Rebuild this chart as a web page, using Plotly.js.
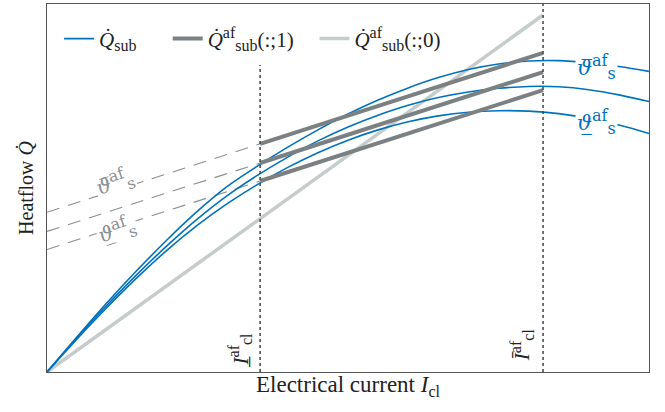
<!DOCTYPE html>
<html>
<head>
<meta charset="utf-8">
<script src="https://cdn.plot.ly/plotly-3.0.1.min.js"></script>
<style>html,body{margin:0;padding:0;background:#fff;}#chart{width:665px;height:412px;}</style>
</head>
<body>
<div id="chart"></div>
<script>
// Electrical current grid (normalized, arbitrary units)
const current = [0, 0.05, 0.10, 0.15, 0.20, 0.25, 0.30, 0.35, 0.40, 0.45, 0.50,
                 0.55, 0.60, 0.65, 0.70, 0.75, 0.80, 0.85, 0.90, 0.95, 1.00];
// Heatflow Q_sub for upper / middle / lower theta_s^af
const qsubHigh = [0, 0.096, 0.189, 0.277, 0.360, 0.437, 0.505, 0.560, 0.611, 0.658, 0.701,
                  0.739, 0.772, 0.800, 0.822, 0.837, 0.845, 0.846, 0.840, 0.830, 0.817];
const qsubMid  = [0, 0.093, 0.182, 0.266, 0.344, 0.416, 0.480, 0.535, 0.584, 0.628, 0.666,
                  0.698, 0.725, 0.746, 0.761, 0.771, 0.776, 0.775, 0.767, 0.753, 0.735];
const qsubLow  = [0, 0.090, 0.176, 0.257, 0.332, 0.399, 0.458, 0.510, 0.556, 0.596, 0.630,
                  0.658, 0.680, 0.696, 0.706, 0.710, 0.709, 0.702, 0.689, 0.671, 0.648];
// Current limits
const IclLow = 0.354;
const IclHigh = 0.824;
// Q_sub^af(:;1) linearizations: values at [0, IclLow, IclHigh]
const qaf1High = [0.434, 0.620, 0.867];
const qaf1Mid  = [0.382, 0.568, 0.815];
const qaf1Low  = [0.333, 0.519, 0.766];
// Q_sub^af(:;0): values at [0, IclHigh]
const qaf0 = [0, 0.970];

const blue = '#0072BD', dark = '#7b8182', light = '#c5cccc', dash = '#8a8f90';
const F = '"Liberation Serif", "DejaVu Serif", serif';
const TF = '"DejaVu Serif", "Liberation Serif", serif';
const NB = '\u00a0';
const sub = t => '<sub><span style="font-size:16px">' + t + '</span></sub>';
const sup = t => '<sup><span style="font-size:16px">' + t + '</span></sup>';

const traces = [];
// dashed extensions
[qaf1High, qaf1Mid, qaf1Low].forEach(v => traces.push({
  x: [0, IclLow], y: [v[0], v[1]], mode: 'lines', showlegend: false, hoverinfo: 'skip',
  line: {color: dash, width: 1.1, dash: '13px,9px'}
}));
// light gray
traces.push({x: [0, IclHigh], y: qaf0, mode: 'lines', name: '<i>Q̇</i>' + sup('af') + sub('sub') + '(:;0)',
  legendrank: 3, line: {color: light, width: 3.5}});
// blue curves
[qsubHigh, qsubMid, qsubLow].forEach((v, i) => traces.push({
  x: current, y: v, mode: 'lines', name: '<i>Q̇</i>' + sub('sub') + NB.repeat(5), legendgroup: 'b',
  showlegend: i === 0, legendrank: 1, line: {color: blue, width: 1.6, shape: 'spline'}
}));
// dark gray
[qaf1High, qaf1Mid, qaf1Low].forEach((v, i) => traces.push({
  x: [IclLow, IclHigh], y: [v[1], v[2]], mode: 'lines', name: '<i>Q̇</i>' + sup('af') + sub('sub') + '(:;1)' + NB.repeat(3),
  legendgroup: 'd', showlegend: i === 0, legendrank: 2, line: {color: dark, width: 4}
}));

const ann = (x, y, text, opts) => Object.assign({x, y, xref: 'x', yref: 'y', text, showarrow: false,
  font: {family: F, size: 21, color: '#222'}}, opts || {});
const theta = (bar) => '<i>' + (bar ? 'ϑ\u0305' : 'ϑ\u0332') + '</i>' + sup('af') + sub('s');

const layout = {
  width: 665, height: 412,
  margin: {l: 47, r: 16, t: 4, b: 40},
  paper_bgcolor: '#fff', plot_bgcolor: '#fff',
  font: {family: F, color: '#222'},
  xaxis: {range: [0, 1], showticklabels: false, ticks: '', showgrid: false, zeroline: false,
    showline: true, mirror: true, linecolor: '#555', linewidth: 1.2,
    title: {text: 'Electrical current <i>I</i>' + sub('cl'), font: {family: F, size: 23, color: '#222'}, standoff: 3}},
  yaxis: {range: [0, 1], showticklabels: false, ticks: '', showgrid: false, zeroline: false,
    showline: true, mirror: true, linecolor: '#555', linewidth: 1.2,
    title: {text: 'Heatflow <i>Q̇</i>', font: {family: F, size: 20, color: '#222'}, standoff: 6}},
  showlegend: true,
  legend: {orientation: 'h', x: 0.020, y: 0.905, xanchor: 'left', yanchor: 'middle',
    bgcolor: 'rgba(255,255,255,1)', borderwidth: 0, font: {family: F, size: 21, color: '#222'},
    itemwidth: 30, tracegroupgap: 0},
  shapes: [
    {type: 'line', xref: 'x', yref: 'y', x0: IclLow, x1: IclLow, y0: 0, y1: 0.834, layer: 'above',
      line: {color: '#444', width: 1.5, dash: 'dot'}},
    {type: 'line', xref: 'x', yref: 'y', x0: IclHigh, x1: IclHigh, y0: 0, y1: 1, layer: 'above',
      line: {color: '#444', width: 1.5, dash: 'dot'}}
  ],
  annotations: [
    ann(0.912, 0.830, theta(true), {font: {family: TF, size: 21, color: blue}, bgcolor: '#fff'}),
    ann(0.912, 0.679, theta(false), {font: {family: TF, size: 21, color: blue}, bgcolor: '#fff'}),
    ann(0.113, 0.517, theta(true), {font: {family: TF, size: 20, color: dash}, bgcolor: '#fff', textangle: -18}),
    ann(0.116, 0.386, theta(false), {font: {family: TF, size: 20, color: dash}, bgcolor: '#fff', textangle: -18}),
    ann(0.320, 0.060, '<i>I̲</i>' + sup('af') + sub('cl'), {textangle: -90}),
    ann(0.788, 0.074, '<i>Ī</i>' + sup('af') + sub('cl'), {textangle: -90})
  ]
};
Plotly.newPlot('chart', traces, layout, {displayModeBar: false, staticPlot: true});
</script>
</body>
</html>
